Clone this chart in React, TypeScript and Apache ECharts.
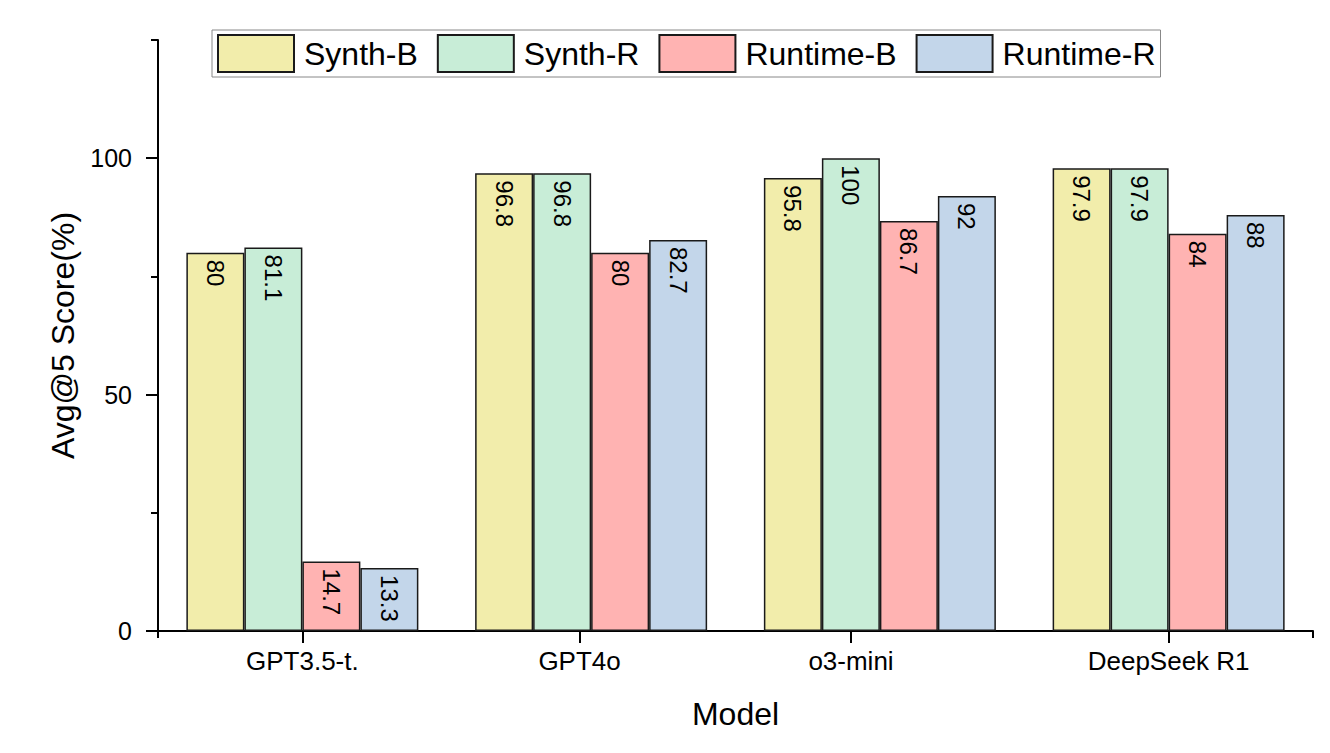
import React, { useEffect, useRef } from "react";
import * as echarts from "echarts";

const categories = ["GPT3.5-t.", "GPT4o", "o3-mini", "DeepSeek R1"];
const seriesNames = ["Synth-B", "Synth-R", "Runtime-B", "Runtime-R"];
const synthB = [80, 96.8, 95.8, 97.9];
const synthR = [81.1, 96.8, 100, 97.9];
const runtimeB = [14.7, 80, 86.7, 84];
const runtimeR = [13.3, 82.7, 92, 88];
const yMajorTicks = [0, 50, 100];
const yMinorTicks = [25, 75, 125];

const colors = ["#F2EDAB", "#C8EDD7", "#FFB3B2", "#C3D6EA"];
const FONT = "Liberation Sans, Arial, sans-serif";

export default function App() {
  const ref = useRef<HTMLDivElement>(null);
  useEffect(() => {
    if (!ref.current) return;
    const chart = echarts.init(ref.current, undefined, { renderer: "svg" });
    const values = [synthB, synthR, runtimeB, runtimeR];
    // x positions (in category units) of the tick labels, as drawn in the original
    const xLabelPos = [0.5, 1.46, 2.4, 3.5];
    const axisLine = { show: true, lineStyle: { color: "#000", width: 2 } };
    const tickStyle = { color: "#000", width: 2 };
    const option: any = {
      animation: false,
      textStyle: { fontFamily: FONT },
      grid: { left: 158, right: 17, top: 40, bottom: 122 },
      legend: {
        left: 212,
        top: 30,
        orient: "horizontal",
        padding: [4, 5, 4, 5],
        itemGap: 19,
        itemWidth: 76,
        itemHeight: 37,
        borderColor: "#888",
        borderWidth: 1,
        icon: "rect",
        textStyle: { fontSize: 32, color: "#000", fontFamily: FONT, padding: [0, 0, 0, 5] },
        data: seriesNames,
      },
      xAxis: [
        {
          type: "category",
          data: categories,
          position: "bottom",
          boundaryGap: true,
          axisLine,
          axisTick: { show: false },
          axisLabel: { show: false },
          splitLine: { show: false },
          name: "Model",
          nameLocation: "middle",
          nameGap: 67,
          nameTextStyle: { fontSize: 32, color: "#000", fontFamily: FONT },
        },
        {
          type: "value",
          min: 0,
          max: 4,
          position: "bottom",
          axisLine: { show: false },
          splitLine: { show: false },
          axisTick: { show: true, length: 12, lineStyle: tickStyle, customValues: xLabelPos },
          axisLabel: {
            show: true,
            customValues: xLabelPos,
            margin: 17,
            fontSize: 26,
            color: "#000",
            fontFamily: FONT,
            formatter: (v: number) => categories[Math.floor(v)] ?? "",
          },
        },
        {
          type: "value",
          min: 0,
          max: 4,
          position: "bottom",
          axisLine: { show: false },
          splitLine: { show: false },
          axisTick: { show: true, length: 7, lineStyle: tickStyle, customValues: [0, 4] },
          axisLabel: { show: false },
        },
      ],
      yAxis: [
        {
          type: "value",
          min: 0,
          max: 125,
          position: "left",
          axisLine,
          splitLine: { show: false },
          axisTick: { show: true, length: 12, lineStyle: tickStyle, customValues: yMajorTicks },
          axisLabel: {
            show: true,
            customValues: yMajorTicks,
            margin: 26,
            fontSize: 25,
            color: "#000",
            fontFamily: FONT,
          },
          name: "Avg@5 Score(%)",
          nameLocation: "middle",
          nameGap: 76,
          nameTextStyle: { fontSize: 32, color: "#000", fontFamily: FONT },
        },
        {
          type: "value",
          min: 0,
          max: 125,
          position: "left",
          axisLine: { show: false },
          splitLine: { show: false },
          axisTick: { show: true, length: 7, lineStyle: tickStyle, customValues: yMinorTicks },
          axisLabel: { show: false },
        },
      ],
      series: seriesNames.map((name, i) => ({
        name,
        type: "bar",
        xAxisIndex: 0,
        yAxisIndex: 0,
        data: values[i],
        barWidth: 58,
        barGap: "0%",
        itemStyle: { color: colors[i], borderColor: "#1a1a1a", borderWidth: 1.5 },
        label: {
          show: true,
          position: "insideTop",
          distance: 7,
          rotate: -90,
          align: "left",
          verticalAlign: "middle",
          fontSize: 24,
          color: "#000",
          fontFamily: FONT,
        },
      })),
    };
    chart.setOption(option);
    return () => chart.dispose();
  }, []);
  return (
    <div
      ref={ref}
      style={{ position: "fixed", left: 0, top: 0, width: 1330, height: 753, background: "#fff" }}
    />
  );
}
